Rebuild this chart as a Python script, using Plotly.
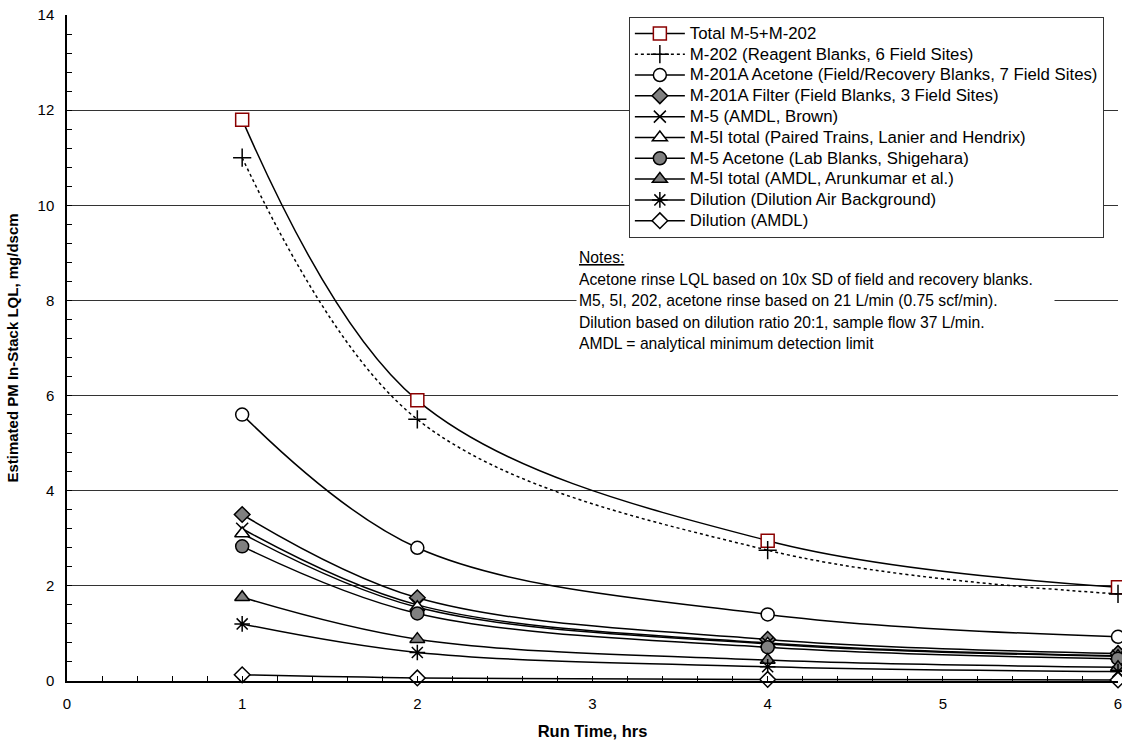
import plotly.graph_objects as go

# Run time (hours) at which each LQL was estimated
run_hours = [1, 2, 4, 6]

# Estimated in-stack LQL values, mg/dscm
total_m5_m202 = [11.8, 5.9, 2.95, 1.97]
m202_reagent = [11.0, 5.5, 2.75, 1.83]
m201a_acetone = [5.6, 2.8, 1.4, 0.93]
m201a_filter = [3.5, 1.75, 0.875, 0.58]
m5_amdl_brown = [3.2, 1.6, 0.8, 0.53]
m5i_paired = [3.1, 1.55, 0.78, 0.52]
m5_acetone_lab = [2.83, 1.42, 0.71, 0.47]
m5i_amdl = [1.76, 0.88, 0.44, 0.29]
dilution_air = [1.2, 0.6, 0.3, 0.2]
dilution_amdl = [0.13, 0.065, 0.033, 0.022]

series = [
    ("Total M-5+M-202", total_m5_m202, "square", "white", "#8B0000", "solid"),
    ("M-202 (Reagent Blanks, 6 Field Sites)", m202_reagent, "cross-thin-open", "black", "black", "dot"),
    ("M-201A Acetone (Field/Recovery Blanks, 7 Field Sites)", m201a_acetone, "circle", "white", "black", "solid"),
    ("M-201A Filter (Field Blanks, 3 Field Sites)", m201a_filter, "diamond", "#808080", "black", "solid"),
    ("M-5 (AMDL, Brown)", m5_amdl_brown, "x-thin-open", "black", "black", "solid"),
    ("M-5I total (Paired Trains, Lanier and Hendrix)", m5i_paired, "triangle-up", "white", "black", "solid"),
    ("M-5 Acetone (Lab Blanks, Shigehara)", m5_acetone_lab, "circle", "#808080", "black", "solid"),
    ("M-5I total (AMDL, Arunkumar et al.)", m5i_amdl, "triangle-up", "#808080", "black", "solid"),
    ("Dilution (Dilution Air Background)", dilution_air, "asterisk-open", "black", "black", "solid"),
    ("Dilution (AMDL)", dilution_amdl, "diamond", "white", "black", "solid"),
]

sizes = {
    "square": 13, "cross-thin-open": 13, "circle": 13, "diamond": 12,
    "x-thin-open": 12, "triangle-up": 13, "asterisk-open": 13,
}

FONT = "Liberation Sans, Arial"
# legend rows are spaced by the legend font size; entry text is set larger inline
LEGEND_ROW_FONT = 13.7
LEGEND_TEXT_SIZE = 16.8

fig = go.Figure()
for name, vals, sym, fill, edge, dash in series:
    fig.add_trace(go.Scatter(
        x=run_hours, y=vals,
        name=f"<span style='font-size:{LEGEND_TEXT_SIZE}px'>{name}</span>",
        mode="lines+markers",
        line=dict(color="black", width=1.5, dash=dash, shape="spline", smoothing=1),
        marker=dict(symbol=sym, size=sizes[sym], color=fill,
                    line=dict(color=edge, width=1.5)),
        cliponaxis=False,
    ))

note_lines = [
    "<u>Notes:</u>",
    "Acetone rinse LQL based on 10x SD of field and recovery blanks.",
    "M5, 5I, 202, acetone rinse based on 21 L/min (0.75 scf/min).",
    "Dilution based on dilution ratio 20:1, sample flow 37 L/min.",
    "AMDL = analytical minimum detection limit",
]
notes = "<br>".join(f"<span style='font-size:15.7px'>{t}</span>" for t in note_lines)

fig.add_annotation(
    text=notes, xref="paper", yref="paper", x=0.4844, y=0.6535,
    xanchor="left", yanchor="top", align="left", showarrow=False,
    width=473,
    font=dict(family=FONT, size=16.6, color="black"),
    bgcolor="white", borderpad=2,
)

axis_font = dict(family=FONT, size=15, color="black")

fig.update_layout(
    width=1122, height=745,
    margin=dict(l=67, r=0, t=15, b=64),
    paper_bgcolor="white", plot_bgcolor="white",
    font=axis_font,
    showlegend=True,
    legend=dict(
        x=0.5346, y=0.997, xanchor="left", yanchor="top",
        bgcolor="white", bordercolor="#333", borderwidth=1,
        font=dict(family=FONT, size=LEGEND_ROW_FONT, color="black"),
        itemwidth=50, tracegroupgap=0,
    ),
    xaxis=dict(
        range=[0, 6], dtick=1, tick0=0,
        showgrid=False, zeroline=False,
        showline=True, linecolor="black", linewidth=1.5,
        ticks="inside", ticklen=5, tickcolor="black",
        minor=dict(dtick=0.2, ticks="inside", ticklen=5, tickcolor="black", showgrid=False),
        tickfont=axis_font, ticklabeloverflow="allow", ticklabelstandoff=8,
        title=dict(text="<b>Run Time, hrs</b>",
                   font=dict(family=FONT, size=16.5, color="black")),
    ),
    yaxis=dict(
        range=[0, 14], dtick=2, tick0=0,
        showgrid=True, gridcolor="#333", gridwidth=1, zeroline=False,
        showline=True, linecolor="black", linewidth=1.5,
        ticks="inside", ticklen=5, tickcolor="black",
        minor=dict(dtick=0.4, ticks="inside", ticklen=5, tickcolor="black", showgrid=False),
        tickfont=axis_font, ticklabelstandoff=8,
        title=dict(text="<b>Estimated PM In-Stack LQL, mg/dscm</b>",
                   font=dict(family=FONT, size=15, color="black")),
    ),
)

fig.write_html("out.html")
